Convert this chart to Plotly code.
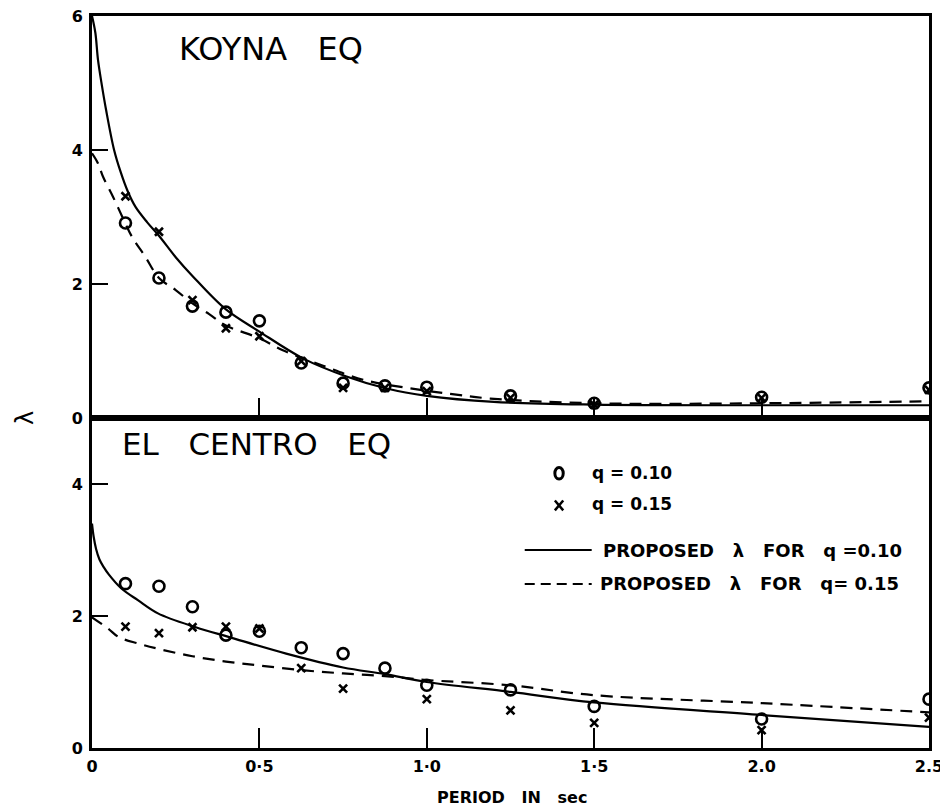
import plotly.graph_objects as go

# ---------------- data ----------------
periods = [0.1, 0.2, 0.3, 0.4, 0.5, 0.625, 0.75, 0.875, 1.0, 1.25, 1.5, 2.0, 2.5]

koyna_q010 = [2.91, 2.09, 1.67, 1.58, 1.45, 0.82, 0.52, 0.48, 0.46, 0.33, 0.22, 0.31, 0.45]
koyna_q015 = [3.31, 2.78, 1.76, 1.34, 1.22, 0.85, 0.45, 0.45, 0.40, 0.30, 0.20, 0.30, 0.42]

elcentro_q010 = [2.49, 2.45, 2.14, 1.71, 1.77, 1.52, 1.43, 1.21, 0.95, 0.88, 0.63, 0.44, 0.74]
elcentro_q015 = [1.84, 1.74, 1.83, 1.84, 1.81, 1.21, 0.90, None, 0.74, 0.57, 0.38, 0.27, 0.46]

# proposed curves
koyna_solid_T = [0.0, 0.01, 0.018, 0.03, 0.042, 0.066, 0.085, 0.107, 0.13, 0.165, 0.2, 0.25, 0.3, 0.4, 0.5, 0.63, 0.76, 0.88, 1.0, 1.2, 1.5, 2.0, 2.5]
koyna_solid_L = [6.0, 5.75, 5.34, 4.95, 4.6, 4.0, 3.68, 3.38, 3.15, 2.92, 2.72, 2.40, 2.12, 1.62, 1.29, 0.89, 0.62, 0.44, 0.33, 0.24, 0.20, 0.19, 0.19]

koyna_dash_T = [0.0, 0.018, 0.033, 0.063, 0.1, 0.12, 0.16, 0.2, 0.25, 0.3, 0.35, 0.4, 0.5, 0.57, 0.69, 0.81, 0.94, 1.07, 1.19, 1.5, 2.0, 2.5]
koyna_dash_L = [3.95, 3.8, 3.6, 3.3, 2.9, 2.7, 2.4, 2.09, 1.91, 1.71, 1.55, 1.38, 1.19, 1.01, 0.78, 0.57, 0.45, 0.36, 0.29, 0.22, 0.22, 0.25]

elc_solid_T = [0.0, 0.005, 0.012, 0.022, 0.035, 0.05, 0.087, 0.137, 0.197, 0.31, 0.41, 0.58, 0.75, 0.875, 1.0, 1.25, 1.5, 2.0, 2.5]
elc_solid_L = [3.40, 3.20, 3.02, 2.86, 2.74, 2.63, 2.42, 2.24, 2.04, 1.83, 1.68, 1.43, 1.22, 1.12, 1.00, 0.85, 0.69, 0.50, 0.32]

elc_dash_T = [0.0, 0.048, 0.08, 0.14, 0.2, 0.3, 0.4, 0.5, 0.625, 0.75, 0.875, 1.0, 1.25, 1.5, 2.0, 2.5]
elc_dash_L = [1.98, 1.81, 1.68, 1.58, 1.50, 1.39, 1.31, 1.25, 1.18, 1.13, 1.09, 1.03, 0.95, 0.80, 0.68, 0.54]

x_tickvals = [0, 0.5, 1.0, 1.5, 2.0, 2.5]
x_ticktext = ["0", "0·5", "1·0", "1·5", "2.0", "2.5"]
top_tickvals = [0, 2, 4, 6]
bot_tickvals = [0, 2, 4]

# ---------------- figure ----------------
FONT = "DejaVu Sans"
fig = go.Figure()

circle = dict(symbol="circle-open", size=11, color="black", line=dict(width=2.6, color="black"))
cross = dict(symbol="x-thin-open", size=8, color="black", line=dict(width=2.6, color="black"))
solid = dict(color="black", width=2.2)
dashed = dict(color="black", width=2.2, dash="12px,8px")

# top panel (Koyna)
fig.add_trace(go.Scatter(x=koyna_solid_T, y=koyna_solid_L, mode="lines", line=solid, line_shape="spline", xaxis="x", yaxis="y"))
fig.add_trace(go.Scatter(x=koyna_dash_T, y=koyna_dash_L, mode="lines", line=dashed, line_shape="spline", xaxis="x", yaxis="y"))
fig.add_trace(go.Scatter(x=periods, y=koyna_q010, mode="markers", marker=circle, xaxis="x", yaxis="y"))
fig.add_trace(go.Scatter(x=periods, y=koyna_q015, mode="markers", marker=cross, xaxis="x", yaxis="y"))

# bottom panel (El Centro)
fig.add_trace(go.Scatter(x=elc_solid_T, y=elc_solid_L, mode="lines", line=solid, line_shape="spline", xaxis="x2", yaxis="y2"))
fig.add_trace(go.Scatter(x=elc_dash_T, y=elc_dash_L, mode="lines", line=dashed, line_shape="spline", xaxis="x2", yaxis="y2"))
fig.add_trace(go.Scatter(x=periods, y=elcentro_q010, mode="markers", marker=circle, xaxis="x2", yaxis="y2"))
fig.add_trace(go.Scatter(x=periods, y=elcentro_q015, mode="markers", marker=cross, xaxis="x2", yaxis="y2"))

split = 330 / 732

axis_common = dict(showline=True, linecolor="black", linewidth=3, mirror=True,
                   showgrid=False, zeroline=False, ticks="inside", tickcolor="black",
                   tickwidth=2, automargin=False, ticklabeloverflow="allow")
tick_font = dict(size=16, family=FONT, weight="bold")

# page body has an 8px default margin: figure is 940x802 so it fills the 948x810 window
fig.update_layout(
    width=940, height=802,
    margin=dict(l=84, r=19, t=8, b=62),
    paper_bgcolor="white", plot_bgcolor="white",
    showlegend=False,
    font=dict(family=FONT, color="black"),
    xaxis=dict(domain=[0, 1], anchor="y", range=[0, 2.5], tickvals=x_tickvals,
               showticklabels=False, ticklen=20, **axis_common),
    yaxis=dict(domain=[split, 1], anchor="x", range=[0, 6], tickvals=top_tickvals,
               ticklen=16, ticklabelstandoff=3, tickfont=tick_font, **axis_common),
    xaxis2=dict(domain=[0, 1], anchor="y2", range=[0, 2.5], tickvals=x_tickvals, ticktext=x_ticktext,
                ticklen=20, ticklabelstandoff=2, tickfont=tick_font, **axis_common),
    yaxis2=dict(domain=[0, split], anchor="x2", range=[0, 5], tickvals=bot_tickvals,
                ticklen=16, ticklabelstandoff=3, tickfont=tick_font, **axis_common),
)

ann = []
ann.append(dict(text="KOYNA   EQ", xref="x domain", yref="y domain", x=0.101, y=0.918,
                xanchor="left", yanchor="middle", showarrow=False, font=dict(size=32, family=FONT)))
ann.append(dict(text="EL   CENTRO   EQ", xref="x2 domain", yref="y2 domain", x=0.033, y=0.92,
                xanchor="left", yanchor="middle", showarrow=False, font=dict(size=31, family=FONT)))
ann.append(dict(text="λ", xref="paper", yref="paper", x=-0.08, y=split, textangle=-90,
                xanchor="center", yanchor="middle", showarrow=False, font=dict(size=24, family=FONT)))
ann.append(dict(text="<b>PERIOD   IN   sec</b>", xref="paper", yref="paper", x=0.502, y=-0.067,
                xanchor="center", yanchor="middle", showarrow=False, font=dict(size=16, family=FONT)))

# legend (inside bottom panel)
leg_font = dict(size=17, family=FONT)
ann.append(dict(text="<b>q = 0.10</b>", xref="x2 domain", yref="y2 domain", x=0.595, y=0.833,
                xanchor="left", yanchor="middle", showarrow=False, font=leg_font))
ann.append(dict(text="<b>q = 0.15</b>", xref="x2 domain", yref="y2 domain", x=0.595, y=0.738,
                xanchor="left", yanchor="middle", showarrow=False, font=leg_font))
ann.append(dict(text="<b>PROPOSED   λ   FOR   q =0.10</b>", xref="x2 domain", yref="y2 domain", x=0.608, y=0.60,
                xanchor="left", yanchor="middle", showarrow=False, font=dict(size=18, family=FONT)))
ann.append(dict(text="<b>PROPOSED   λ   FOR   q= 0.15</b>", xref="x2 domain", yref="y2 domain", x=0.605, y=0.497,
                xanchor="left", yanchor="middle", showarrow=False, font=dict(size=18, family=FONT)))
fig.update_layout(annotations=ann)

# legend symbols
fig.add_shape(type="circle", xref="x2 domain", yref="y2 domain",
              x0=0.553, x1=0.563, y0=0.815, y1=0.850, line=dict(color="black", width=3))
fig.add_shape(type="line", xref="x2 domain", yref="y2 domain", x0=0.553, x1=0.563, y0=0.72, y1=0.75,
              line=dict(color="black", width=2.5))
fig.add_shape(type="line", xref="x2 domain", yref="y2 domain", x0=0.553, x1=0.563, y0=0.75, y1=0.72,
              line=dict(color="black", width=2.5))
fig.add_shape(type="line", xref="x2 domain", yref="y2 domain", x0=0.517, x1=0.597, y0=0.60, y1=0.60,
              line=dict(color="black", width=2))
fig.add_shape(type="line", xref="x2 domain", yref="y2 domain", x0=0.517, x1=0.597, y0=0.497, y1=0.497,
              line=dict(color="black", width=2, dash="10px,6px"))

fig.write_html("out.html")
